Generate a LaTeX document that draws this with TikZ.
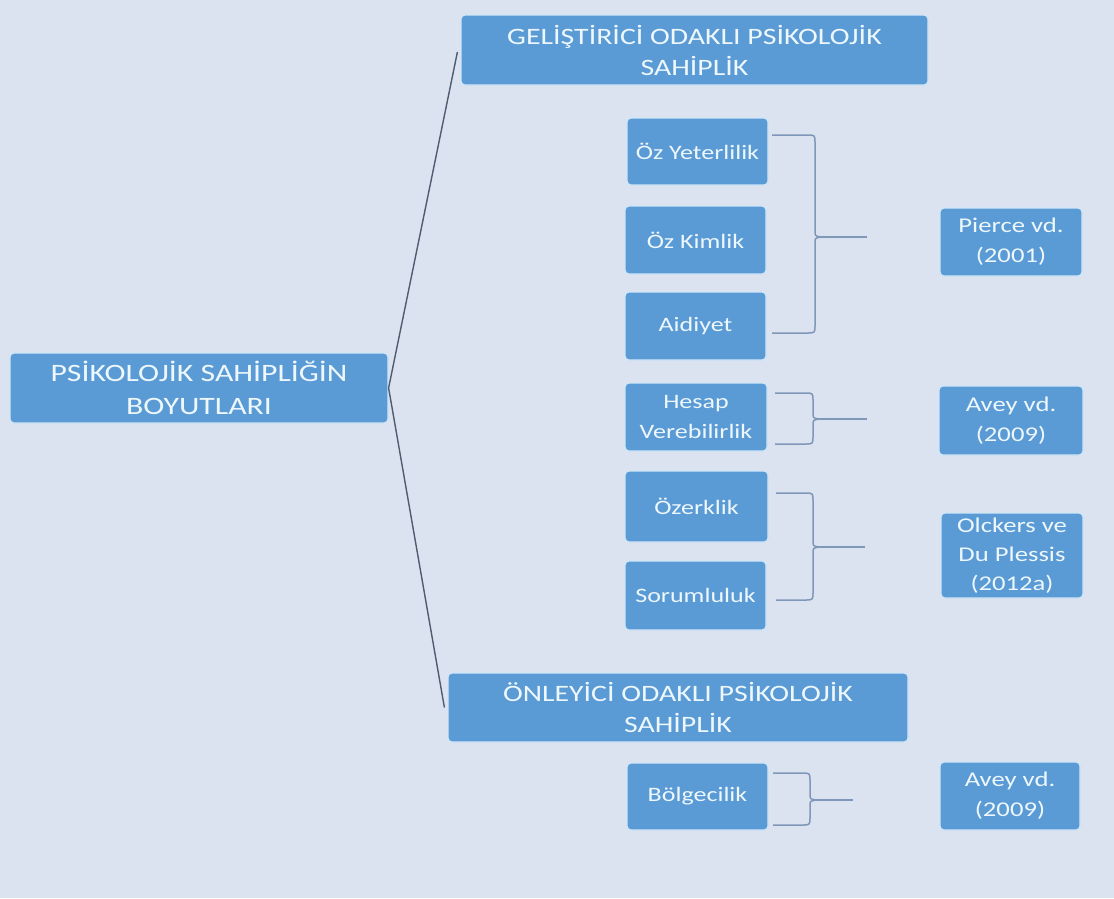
\documentclass[tikz,border=0pt]{standalone}
\usepackage{fontspec}
\setmainfont{Carlito}
\newfontfamily\headfont{Carlito}[FakeStretch=1.27]
\newfontfamily\itemfont{Carlito}[FakeStretch=1.27]
\begin{document}
\definecolor{bgcol}{HTML}{DBE3F1}
\definecolor{boxfill}{HTML}{5B9BD5}
\definecolor{boxedge}{HTML}{CFE6F7}
\definecolor{boxtext}{HTML}{EDF7FC}
\definecolor{bracecol}{HTML}{7F97B8}
\definecolor{stemcol}{HTML}{4F5B6E}
\begin{tikzpicture}[x=1pt,y=-1pt,
  box/.style={draw=boxedge, line width=1.2pt, fill=boxfill, rounded corners=4pt,
    text=boxtext, align=center, inner sep=0pt,
    font=\itemfont\fontsize{20.5}{30}\selectfont},
  headbox/.style={box, font=\headfont\fontsize{23.5}{31}\selectfont},
  srcbox/.style={box, font=\itemfont\fontsize{21}{30}\selectfont},
  stem/.style={draw=stemcol, line width=1.4pt},
  bracel/.style={draw=bracecol, line width=1.5pt, line join=round}]
\fill[bgcol] (0,0) rectangle (1114,898);
\useasboundingbox (0,0) rectangle (1114,898);

% main topic and the two focus groups
\node[headbox, minimum width=378pt, minimum height=70pt, font=\headfont\fontsize{25}{33}\selectfont] (root) at (199,388) {PSİKOLOJİK SAHİPLİĞİN\\BOYUTLARI};
\node[headbox, minimum width=467pt, minimum height=70pt] (gel) at (694.5,50) {GELİŞTİRİCİ ODAKLI PSİKOLOJİK\\SAHİPLİK};
\node[headbox, minimum width=460pt, minimum height=69pt] (onl) at (678,707.5) {ÖNLEYİCİ ODAKLI PSİKOLOJİK\\SAHİPLİK};

% dimensions
\node[box, minimum width=141pt, minimum height=67pt] (yet) at (697.5,151.5) {Öz Yeterlilik};
\node[box, minimum width=141pt, minimum height=68pt] (kim) at (695.5,240) {Öz Kimlik};
\node[box, minimum width=141pt, minimum height=68pt] (aid) at (695.5,326) {Aidiyet};
\node[box, minimum width=142pt, minimum height=68pt] (hes) at (696,417) {Hesap\\Verebilirlik};
\node[box, minimum width=143pt, minimum height=71pt] (oze) at (696.5,506.5) {Özerklik};
\node[box, minimum width=141pt, minimum height=69pt] (sor) at (695.5,595.5) {Sorumluluk};
\node[box, minimum width=141pt, minimum height=67pt] (bol) at (697.5,796.5) {Bölgecilik};

% sources
\node[srcbox, minimum width=142pt, minimum height=68pt] (pie) at (1011,242) {Pierce vd.\\(2001)};
\node[srcbox, minimum width=144pt, minimum height=69pt] (av1) at (1011,420.5) {Avey vd.\\(2009)};
\node[srcbox, minimum width=142pt, minimum height=85pt, font=\itemfont\fontsize{21}{29}\selectfont] (olc) at (1012,555.5) {Olckers ve\\Du Plessis\\(2012a)};
\node[srcbox, minimum width=140pt, minimum height=68pt] (av2) at (1010,796) {Avey vd.\\(2009)};

% stems from the main topic
\draw[stem] (root.east) -- ([xshift=-3pt,yshift=-2pt]gel.west);
\draw[stem] (root.east) -- ([xshift=-3pt]onl.west);

% right braces grouping the dimensions
% #1 left x, #2 spine x, #3 top y, #4 middle y, #5 bottom y, #6 end of the pointer
\newcommand{\grpbrace}[6]{%
  \draw[bracel] (#1,#3) -- (#2-8,#3) .. controls (#2,#3) .. (#2,#3+8)
    -- (#2,#4-6) .. controls (#2,#4-1) .. (#2+6,#4)
    .. controls (#2,#4+1) .. (#2,#4+6)
    -- (#2,#5-8) .. controls (#2,#5) .. (#2-8,#5) -- (#1,#5);
  \draw[bracel] (#2+6,#4) -- (#6,#4);}
\grpbrace{772}{815}{135}{237}{333}{867}
\grpbrace{775}{813}{393}{419}{444}{867}
\grpbrace{776}{813}{493}{547}{600}{865}
\grpbrace{773}{810}{773}{800}{825}{853}
\end{tikzpicture}
\end{document}
